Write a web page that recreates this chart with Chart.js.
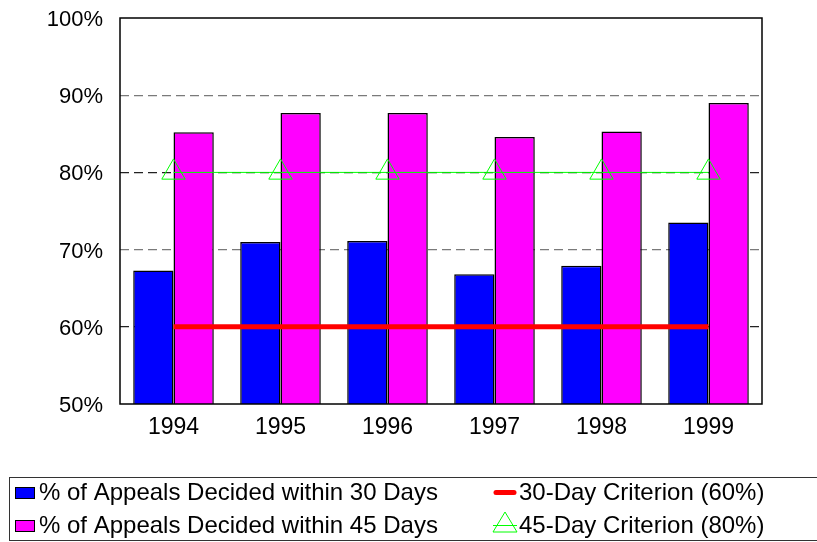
<!DOCTYPE html>
<html>
<head>
<meta charset="utf-8">
<script src="https://cdn.jsdelivr.net/npm/chart.js@4/dist/chart.umd.min.js"></script>
<style>
  body { margin: 0; background: #fff; }
  canvas { display: block; }
</style>
</head>
<body>
<canvas id="appealsChart" width="817" height="542"></canvas>
<script>
// ---------------- data ----------------
const years = ['1994', '1995', '1996', '1997', '1998', '1999'];
const within30 = [67.3, 71.0, 71.1, 66.8, 67.9, 73.5];
const within45 = [85.2, 87.7, 87.7, 84.6, 85.3, 89.0];
const crit30 = [60, 60, 60, 60, 60, 60];
const crit45 = [80, 80, 80, 80, 80, 80];
const labels = [
  '% of Appeals Decided within 30 Days',
  '% of Appeals Decided within 45 Days',
  '30-Day Criterion (60%)',
  '45-Day Criterion (80%)'
];

const FONT = '"Liberation Sans", Arial, sans-serif';

// ---------------- box around plot + legend ----------------
const framePlugin = {
  id: 'frame',
  afterDatasetsDraw(chart){
    const a = chart.chartArea, ctx = chart.ctx;
    ctx.save();
    ctx.strokeStyle = '#000';
    ctx.lineWidth = 1.5;
    ctx.strokeRect(a.left, a.top, a.right - a.left, a.bottom - a.top);
    ctx.restore();
  },
  afterDraw(chart){
    const ctx = chart.ctx;
    const ds = chart.data.datasets;
    ctx.save();
    ctx.strokeStyle = '#333';
    ctx.lineWidth = 1;
    ctx.strokeRect(9.5, 477.5, 830, 63);

    ctx.font = '24px ' + FONT;
    ctx.fillStyle = '#000';
    ctx.textBaseline = 'alphabetic';

    // bars
    [[ds[2], 487], [ds[3], 520]].forEach(([d, y]) => {
      ctx.fillStyle = d.backgroundColor;
      ctx.fillRect(15, y, 20, 12);
      ctx.strokeStyle = '#000';
      ctx.strokeRect(15.5, y + 0.5, 19, 11);
      ctx.fillStyle = '#000';
      ctx.fillText(d.label, 39, y + 13);
    });

    // red line
    ctx.strokeStyle = ds[0].borderColor;
    ctx.lineWidth = 5;
    ctx.lineCap = 'round';
    ctx.beginPath(); ctx.moveTo(496, 492.5); ctx.lineTo(514, 492.5); ctx.stroke();
    ctx.fillText(ds[0].label, 519, 500);

    // green triangle
    ctx.strokeStyle = ds[1].borderColor;
    ctx.lineWidth = 1;
    ctx.lineCap = 'butt';
    ctx.beginPath();
    ctx.moveTo(505, 512); ctx.lineTo(517, 532); ctx.lineTo(493, 532); ctx.closePath();
    ctx.moveTo(493, 525.5); ctx.lineTo(517, 525.5);
    ctx.stroke();
    ctx.fillText(ds[1].label, 519, 533);
    ctx.restore();
  }
};

// ---------------- chart ----------------
const ctx = document.getElementById('appealsChart').getContext('2d');
new Chart(ctx, {
  type: 'bar',
  data: {
    labels: years,
    datasets: [
      {
        type: 'line', label: labels[2], data: crit30, order: 0,
        borderColor: '#ff0000', borderWidth: 5, pointRadius: 0, fill: false
      },
      {
        type: 'line', label: labels[3], data: crit45, order: 0,
        borderColor: '#00ff00', borderWidth: 1, fill: false,
        pointStyle: 'triangle', pointRadius: 13.5, pointBorderWidth: 1,
        pointBorderColor: '#00ff00', pointBackgroundColor: 'rgba(0,0,0,0)'
      },
      {
        label: labels[0], data: within30, order: 1,
        backgroundColor: '#0000ff', borderColor: '#000', borderWidth: 1.5,
        categoryPercentage: 0.753, barPercentage: 1
      },
      {
        label: labels[1], data: within45, order: 1,
        backgroundColor: '#ff00ff', borderColor: '#000', borderWidth: 1.5,
        categoryPercentage: 0.753, barPercentage: 1
      }
    ]
  },
  options: {
    responsive: false,
    animation: false,
    layout: { autoPadding: false, padding: { top: 18, right: 55, bottom: 0, left: 0 } },
    plugins: { legend: { display: false }, tooltip: { enabled: false } },
    scales: {
      x: {
        grid: { display: false, drawTicks: false },
        border: { display: false },
        ticks: { color: '#000', font: { family: FONT, size: 23 }, padding: 10 },
        afterFit: s => { s.height = 138; }
      },
      y: {
        min: 50, max: 100,
        grid: {
          drawTicks: false,
          color: c => (c.tick.value === 50 || c.tick.value === 100) ? 'rgba(0,0,0,0)'
            : (c.tick.value === 60 || c.tick.value === 80) ? '#222' : '#7a7a7a',
          lineWidth: 1.3
        },
        border: { display: false, dash: [9, 5] },
        ticks: {
          stepSize: 10, color: '#000', padding: 17, labelOffset: 2,
          font: { family: FONT, size: 22 },
          callback: v => v + '%'
        },
        afterFit: s => { s.width = 120; s.paddingTop = 0; s.paddingBottom = 0; }
      }
    }
  },
  plugins: [framePlugin]
});
</script>
</body>
</html>
